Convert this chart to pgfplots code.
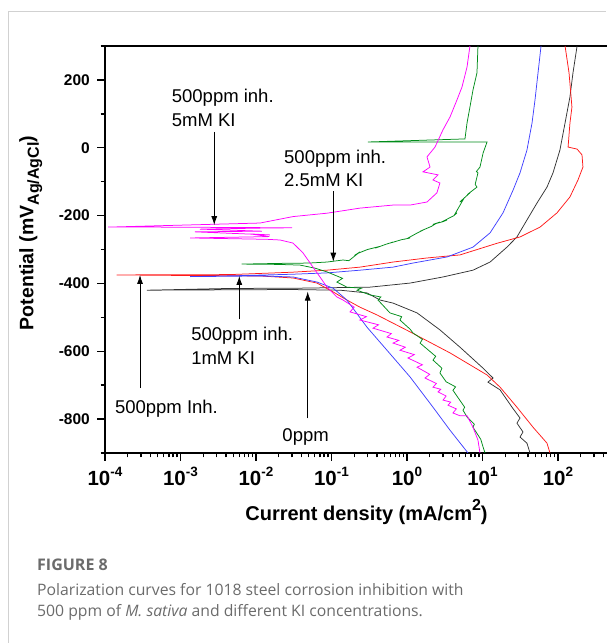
\documentclass[border=0pt]{standalone}
\usepackage{fontspec}
\setmainfont{Liberation Sans}
\newfontfamily\capfont{Open Sans}
\usepackage{pgfplots}
\pgfplotsset{compat=1.18}
\usetikzlibrary{arrows.meta}
\definecolor{cblack}{rgb}{0.2,0.2,0.2}
\definecolor{cred}{rgb}{1,0.1,0.1}
\definecolor{cblue}{rgb}{0.25,0.25,1}
\definecolor{cgreen}{rgb}{0,0.55,0.1}
\definecolor{cmag}{rgb}{1,0,1}
\definecolor{capgray}{rgb}{0.42,0.42,0.42}
\newcommand{\xsup}[1]{\raisebox{0.42em}{\fontsize{13.5}{13.5}\selectfont #1}}
\begin{document}
\begin{tikzpicture}[x=1pt,y=1pt]
\useasboundingbox (0,0) rectangle (606,643);
\draw[black!18, line width=1pt] (8.3,0) -- (8.3,631.3) -- (606,631.3);
\begin{axis}[
  at={(105pt,190pt)}, anchor=south west,
  scale only axis, width=528.5pt, height=407pt,
  xmode=log, xmin=1e-4, xmax=1e3, ymin=-900, ymax=300,
  axis line style={line width=2pt},
  tick align=outside, xtick pos=bottom, ytick pos=left,
  major tick length=8pt, minor tick length=4.5pt,
  every tick/.style={black, line width=1.4pt},
  xtick={1e-4,1e-3,1e-2,1e-1,1,10,100,1000},
  xticklabels={10\xsup{-4},10\xsup{-3},10\xsup{-2},10\xsup{-1},10\xsup{0},10\xsup{1},10\xsup{2},{}},
  ytick={-800,-600,-400,-200,0,200},
  yticklabels={-800,-600,-400,-200,0,200},
  minor ytick={-900,-700,-500,-300,-100,100,300},
  xticklabel style={font=\fontsize{20.5}{20.5}\selectfont\bfseries, inner sep=1pt, yshift=-5pt},
  yticklabel style={font=\fontsize{15.5}{15.5}\selectfont\bfseries, inner sep=1pt, xshift=-6pt},
  every axis plot/.append style={line width=0.75pt},
]
% 0ppm (black)
\addplot[cblack] coordinates {(42.6,-900) (38.8,-871) (31.4,-853) (34.4,-838) (28.6,-812) (31.4,-797) (24.6,-765) (17.1,-714) (11.8,-691) (13.8,-679) (9.84,-647) (5.03,-588) (2.73,-537) (1.36,-487) (0.653,-458) (0.439,-449) (0.295,-428) (0.130,-420) (0.0282,-418) (0.00036,-420) (0.00413,-415) (0.0383,-414) (0.324,-411) (1.10,-399) (3.0,-381) (7.48,-361) (12.6,-337) (21.1,-293) (28.6,-263) (38.8,-213) (52.7,-163) (71.5,-116) (85.9,-74) (106,-7) (124,73) (144,150) (158,221) (179,300)};
% 500ppm (red)
\addplot[cred] coordinates {(78.3,-900) (71.5,-871) (46.7,-824) (28.6,-765) (17.1,-706) (11.5,-670) (3.72,-605) (1.10,-543) (0.401,-493) (0.238,-470) (0.160,-449) (0.105,-425) (0.0643,-399) (0.0309,-384) (0.0113,-378) (0.00181,-377) (0.000143,-375) (0.00453,-374) (0.03,-367) (0.0871,-361) (0.238,-352) (0.653,-337) (1.84,-325) (5.03,-316) (15.4,-282) (31.4,-263) (57.8,-234) (97,-192) (144,-145) (184,-95) (214,-57) (208,-21) (179,-4) (136,2) (144,73) (153,120) (140,221) (124,300)};
% 1mM KI (blue)
\addplot[cblue] coordinates {(6.43,-900) (3.72,-833) (2.21,-765) (1.10,-676) (0.543,-597) (0.295,-529) (0.160,-449) (0.105,-414) (0.0643,-396) (0.0309,-381) (0.0113,-378) (0.00134,-380) (0.00614,-377) (0.03,-373) (0.0871,-369) (0.238,-361) (0.653,-352) (1.20,-340) (3.39,-322) (7.48,-293) (12.6,-251) (18.7,-192) (25.4,-125) (31.4,-74) (38.8,-7) (45.3,73) (49.6,141) (54.4,221) (59.6,300)};
% 2.5mM KI (green)
\addplot[cgreen] coordinates {(10.8,-900) (10.2,-883) (9.5,-860) (8.9,-850) (7.48,-824) (7.8,-815) (6.3,-795) (5.52,-774) (5.8,-765) (4.06,-715) (4.4,-705) (3.3,-690) (2.73,-664) (2.9,-650) (2.21,-626) (2.4,-615) (1.49,-576) (1.6,-565) (1.20,-546) (1.1,-535) (0.807,-508) (0.85,-498) (0.595,-487) (0.413,-449) (0.45,-440) (0.324,-434) (0.218,-420) (0.25,-414) (0.160,-411) (0.118,-396) (0.14,-385) (0.0871,-366) (0.0604,-355) (0.0383,-346) (0.02,-344) (0.00645,-343) (0.0208,-341) (0.05,-340) (0.0871,-337) (0.142,-331) (0.17,-333) (0.238,-307) (0.22,-312) (0.30,-300) (0.401,-293) (0.38,-296) (0.52,-285) (0.653,-278) (0.60,-281) (0.85,-271) (1.10,-266) (1.0,-268) (1.35,-252) (1.63,-243) (1.5,-246) (2.1,-232) (2.49,-222) (2.2,-226) (3.0,-218) (3.39,-213) (3.1,-215) (4.2,-200) (4.59,-192) (4.3,-196) (5.52,-154) (5.0,-160) (6.82,-133) (6.3,-138) (8.45,-116) (8.0,-108) (8.71,-74) (8.3,-70) (9.26,-57) (10.2,-15) (11.5,17) (0.304,17) (5.86,26) (6.24,73) (6.82,120) (7.48,170) (8.45,221) (8.71,300)};
% 5mM KI (magenta)
\addplot[cmag] coordinates {(9.26,-900) (8.71,-862) (7.48,-824) (6.24,-790) (5.0,-790) (4.06,-782) (4.5,-770) (3.49,-759) (3.8,-750) (3.0,-744) (3.3,-732) (2.58,-720) (2.8,-712) (2.21,-706) (2.45,-695) (1.73,-679) (2.0,-668) (1.36,-647) (1.6,-640) (1.03,-620) (1.25,-610) (0.807,-597) (0.95,-588) (0.653,-576) (0.78,-568) (0.543,-558) (0.62,-548) (0.355,-532) (0.42,-522) (0.238,-508) (0.29,-498) (0.176,-484) (0.2,-470) (0.142,-449) (0.118,-440) (0.0871,-411) (0.0704,-381) (0.0569,-352) (0.0419,-310) (0.0309,-281) (0.0208,-272) (0.0140,-270) (0.00134,-266) (0.015,-262) (0.0083,-254) (0.0153,-257) (0.00155,-248) (0.012,-246) (0.00181,-240) (0.0113,-237) (0.03,-236) (0.0005,-234) (0.00011,-234) (0.0113,-222) (0.0309,-203) (0.0871,-193) (0.238,-178) (0.653,-169) (1.10,-169) (1.84,-160) (2.49,-133) (2.73,-104) (2.21,-95) (2.58,-80) (1.63,-71) (2.02,-57) (1.84,-27) (2.35,2) (3.0,53) (3.72,91) (4.59,141) (5.35,179) (6.24,238) (6.82,300)};
% annotations
\begin{scope}[every node/.style={font=\fontsize{18.5}{22}\selectfont, inner sep=0pt, anchor=base west}]
\node at (axis cs:7.64e-4,133) {500ppm inh.};
\node at (axis cs:7.64e-4,64) {5mM KI};
\node at (axis cs:0.0235,-46) {500ppm inh.};
\node at (axis cs:0.0235,-115) {2.5mM KI};
\node at (axis cs:1.38e-3,-567) {500ppm inh.};
\node at (axis cs:1.38e-3,-638) {1mM KI};
\node at (axis cs:1.35e-4,-785) {500ppm Inh.};
\node at (axis cs:0.0223,-867) {0ppm};
\end{scope}
\begin{scope}[line width=0.8pt, -{Latex[length=9pt,width=6pt]}]
\draw (axis cs:2.8e-3,47) -- (axis cs:2.8e-3,-228);
\draw (axis cs:0.1057,-129) -- (axis cs:0.1057,-336);
\draw (axis cs:2.91e-4,-709) -- (axis cs:2.91e-4,-375);
\draw (axis cs:6.01e-3,-506) -- (axis cs:6.01e-3,-378);
\draw (axis cs:0.0484,-798) -- (axis cs:0.0484,-424);
\end{scope}
\end{axis}
% axis titles
\node[font=\fontsize{20}{20}\selectfont\bfseries, anchor=base] at (366.5,122) {Current density (mA/cm\raisebox{0.5em}{\fontsize{16}{16}\selectfont 2})};
\node[font=\fontsize{19.5}{20}\selectfont\bfseries, anchor=base, rotate=90] at (33.3,410) {Potential (mV\raisebox{-0.28em}{\fontsize{16}{16}\selectfont Ag/AgCl})};
% caption
\node[font=\capfont\fontsize{16}{20}\selectfont\bfseries, text=capgray, anchor=base west, inner sep=0pt] at (37,72) {FIGURE 8};
\node[font=\capfont\fontsize{15.75}{20}\selectfont, text=capgray, anchor=base west, inner sep=0pt] at (37,47.3) {Polarization curves for 1018 steel corrosion inhibition with};
\node[font=\capfont\fontsize{15.75}{20}\selectfont, text=capgray, anchor=base west, inner sep=0pt] at (37,27) {500 ppm of \textit{M. sativa} and different KI concentrations.};
\end{tikzpicture}
\end{document}
